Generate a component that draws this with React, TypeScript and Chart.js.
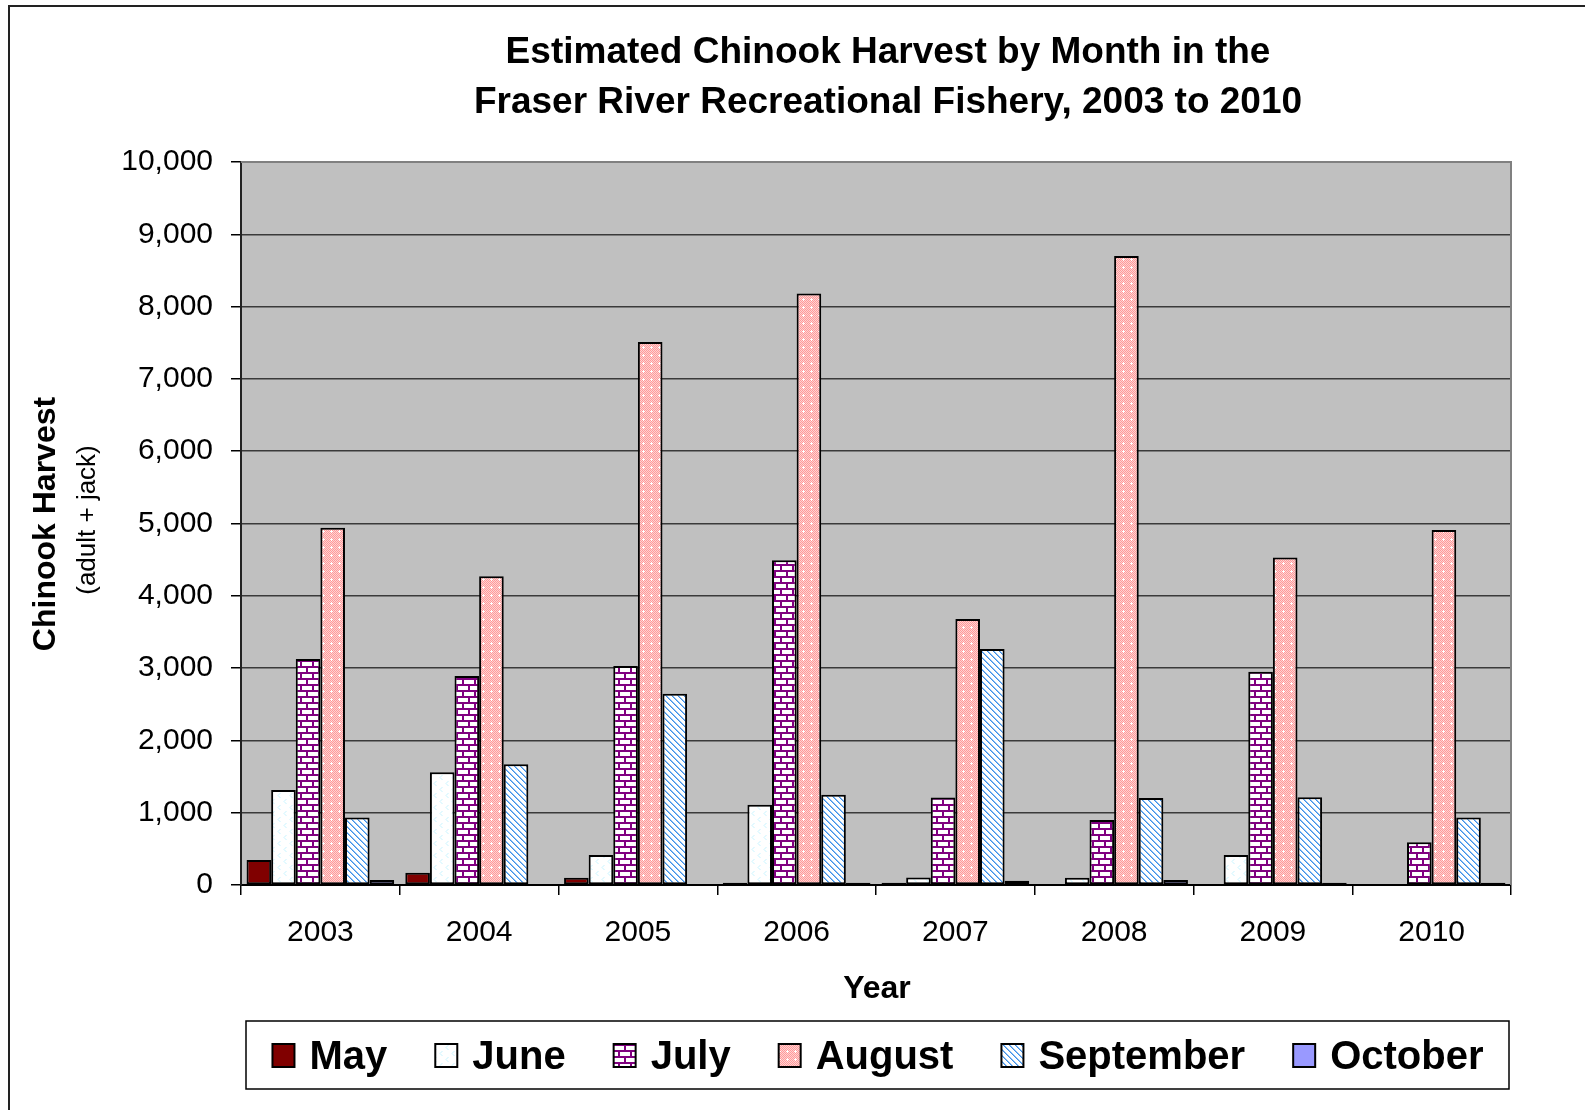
import React, { useEffect, useRef } from 'react';
import { Chart, registerables } from 'chart.js';

Chart.register(...registerables);

const years = ['2003', '2004', '2005', '2006', '2007', '2008', '2009', '2010'];
const mayValues = [345, 170, 100, 30, 30, 0, 0, 0];
const juneValues = [1315, 1560, 415, 1110, 105, 100, 415, 0];
const julyValues = [3125, 2890, 3030, 4490, 1210, 900, 2950, 590];
const augustValues = [4940, 4270, 7510, 8180, 3680, 8700, 4530, 4910];
const septemberValues = [935, 1670, 2645, 1250, 3265, 1205, 1215, 935];
const octoberValues = [70, 0, 0, 30, 60, 70, 30, 30];
const seriesNames = ['May', 'June', 'July', 'August', 'September', 'October'];
const titleLines = ['Estimated Chinook Harvest by Month in the', 'Fraser River Recreational Fishery, 2003 to 2010'];
const yTitle = 'Chinook Harvest';
const ySubTitle = '(adult + jack)';
const xTitle = 'Year';
const yMax = 10000;
const yStep = 1000;

const FONT = "'Liberation Sans', Arial, Helvetica, sans-serif";

function tile(w: number, h: number, draw: (g: CanvasRenderingContext2D) => void) {
  const c = document.createElement('canvas');
  c.width = w;
  c.height = h;
  const g = c.getContext('2d')!;
  draw(g);
  return c;
}

function makePatterns(ctx: CanvasRenderingContext2D) {
  const june = tile(12, 12, (g) => {
    g.fillStyle = '#ffffff';
    g.fillRect(0, 0, 12, 12);
    g.strokeStyle = '#c8f4ff';
    g.lineWidth = 1;
    g.beginPath();
    g.moveTo(4.5, 1); g.lineTo(2, 3.5); g.lineTo(4.5, 6);
    g.moveTo(10.5, 7); g.lineTo(8, 9.5); g.lineTo(10.5, 12);
    g.stroke();
  });
  const july = tile(12, 12, (g) => {
    g.fillStyle = '#ffffff';
    g.fillRect(0, 0, 12, 12);
    g.fillStyle = '#800080';
    g.fillRect(0, 0, 12, 2);
    g.fillRect(0, 6, 12, 2);
    g.fillRect(0, 0, 2, 6);
    g.fillRect(6, 6, 2, 6);
  });
  const august = tile(8, 8, (g) => {
    for (let y = 0; y < 8; y++) {
      for (let x = 0; x < 8; x++) {
        g.fillStyle = (x + y) % 2 === 0 ? '#ff9a9a' : '#ffd2d2';
        g.fillRect(x, y, 1, 1);
      }
    }
    g.fillStyle = '#ffffff';
    g.fillRect(3, 2, 1, 3);
    g.fillRect(2, 3, 3, 1);
  });
  const september = tile(6, 6, (g) => {
    g.fillStyle = '#ffffff';
    g.fillRect(0, 0, 6, 6);
    for (let y = 0; y < 6; y++) {
      for (let x = 0; x < 6; x++) {
        const d = ((x - y) % 6 + 6) % 6;
        if (d === 0) { g.fillStyle = '#3f8fe8'; g.fillRect(x, y, 1, 1); }
        if (d === 1) { g.fillStyle = '#8cc0f4'; g.fillRect(x, y, 1, 1); }
      }
    }
  });
  return [
    '#800000',
    ctx.createPattern(june, 'repeat')!,
    ctx.createPattern(july, 'repeat')!,
    ctx.createPattern(august, 'repeat')!,
    ctx.createPattern(september, 'repeat')!,
    '#9999ff',
  ];
}

export default function App() {
  const ref = useRef<HTMLCanvasElement>(null);

  useEffect(() => {
    const canvas = ref.current!;
    const ctx = canvas.getContext('2d')!;
    const fills = makePatterns(ctx);
    const allValues = [mayValues, juneValues, julyValues, augustValues, septemberValues, octoberValues];

    const decor = {
      id: 'decor',
      beforeDraw(chart: any) {
        const c = chart.ctx;
        const a = chart.chartArea;
        c.save();
        c.fillStyle = '#ffffff';
        c.fillRect(0, 0, chart.width, chart.height);
        c.fillStyle = '#c0c0c0';
        c.fillRect(a.left, a.top, a.right - a.left, a.bottom - a.top);
        c.restore();
      },
      afterDraw(chart: any) {
        const c = chart.ctx;
        const a = chart.chartArea;
        c.save();
        // plot area top/right border
        c.strokeStyle = '#808080';
        c.lineWidth = 2;
        c.beginPath();
        c.moveTo(a.left, a.top);
        c.lineTo(a.right, a.top);
        c.lineTo(a.right, a.bottom);
        c.stroke();
        // outer frame
        c.strokeStyle = '#222';
        c.lineWidth = 2;
        c.beginPath();
        c.moveTo(9, 1110);
        c.lineTo(9, 6);
        c.lineTo(1590, 6);
        c.stroke();
        // title
        c.fillStyle = '#000';
        c.textAlign = 'center';
        c.textBaseline = 'middle';
        c.font = `bold 37px ${FONT}`;
        c.fillText(titleLines[0], 888, 53);
        c.fillText(titleLines[1], 888, 103);
        // x title
        c.font = `bold 32px ${FONT}`;
        c.fillText(xTitle, 877, 989);
        // y titles
        c.save();
        c.translate(46, 524);
        c.rotate(-Math.PI / 2);
        c.font = `bold 32px ${FONT}`;
        c.fillText(yTitle, 0, 0);
        c.restore();
        c.save();
        c.translate(88, 520);
        c.rotate(-Math.PI / 2);
        c.font = `26px ${FONT}`;
        c.fillText(ySubTitle, 0, 0);
        c.restore();
        // legend
        c.strokeStyle = '#000';
        c.lineWidth = 1.5;
        c.strokeRect(246, 1021, 1263, 68);
        c.font = `bold 40px ${FONT}`;
        const boxW = 22, boxH = 23, gapBT = 15, gapItem = 48;
        const widths = seriesNames.map((n) => c.measureText(n).width);
        const total = widths.reduce((s, w) => s + boxW + gapBT + w, 0) + gapItem * (seriesNames.length - 1);
        let x = 878 - total / 2;
        c.textAlign = 'left';
        c.textBaseline = 'alphabetic';
        seriesNames.forEach((n, i) => {
          c.fillStyle = fills[i] as any;
          c.fillRect(x, 1044, boxW, boxH);
          c.strokeStyle = '#000';
          c.lineWidth = 2;
          c.strokeRect(x, 1044, boxW, boxH);
          c.fillStyle = '#000';
          c.fillText(n, x + boxW + gapBT, 1069);
          x += boxW + gapBT + widths[i] + gapItem;
        });
        c.restore();
      },
    };

    const chart = new Chart(ctx, {
      type: 'bar',
      data: {
        labels: years,
        datasets: seriesNames.map((name, i) => ({
          label: name,
          data: allValues[i],
          backgroundColor: fills[i] as any,
          borderColor: '#000',
          borderWidth: 2,
          borderSkipped: false,
          categoryPercentage: 0.93,
          barPercentage: 1.0,
        })),
      },
      options: {
        animation: false,
        responsive: false,
        devicePixelRatio: 1,
        events: [],
        layout: { padding: { left: 0, top: 162, right: 74, bottom: 155 } },
        plugins: {
          legend: { display: false },
          title: { display: false },
          tooltip: { enabled: false },
        },
        scales: {
          x: {
            grid: { offset: true, drawOnChartArea: false, tickLength: 10, color: '#000', lineWidth: 1.5 },
            border: { color: '#000', width: 2 },
            ticks: { font: { family: FONT, size: 30 }, color: '#000', padding: 20, maxRotation: 0, autoSkip: false },
            afterFit: (s: any) => { s.height = 70; },
          },
          y: {
            min: 0,
            max: yMax,
            ticks: {
              stepSize: yStep,
              font: { family: FONT, size: 30 },
              color: '#000',
              padding: 18,
              callback: (v: any) => Number(v).toLocaleString('en-US'),
            },
            grid: { color: '#3a3a3a', lineWidth: 1.5, tickLength: 10, tickColor: '#000' },
            border: { color: '#222', width: 2 },
            afterFit: (s: any) => { s.width = 241; },
          },
        },
      },
      plugins: [decor],
    });
    return () => chart.destroy();
  }, []);

  return (
    <div style={{ position: 'absolute', left: 0, top: 0, width: 1585, height: 1110 }}>
      <canvas ref={ref} width={1585} height={1110} style={{ width: 1585, height: 1110, display: 'block' }} />
    </div>
  );
}
